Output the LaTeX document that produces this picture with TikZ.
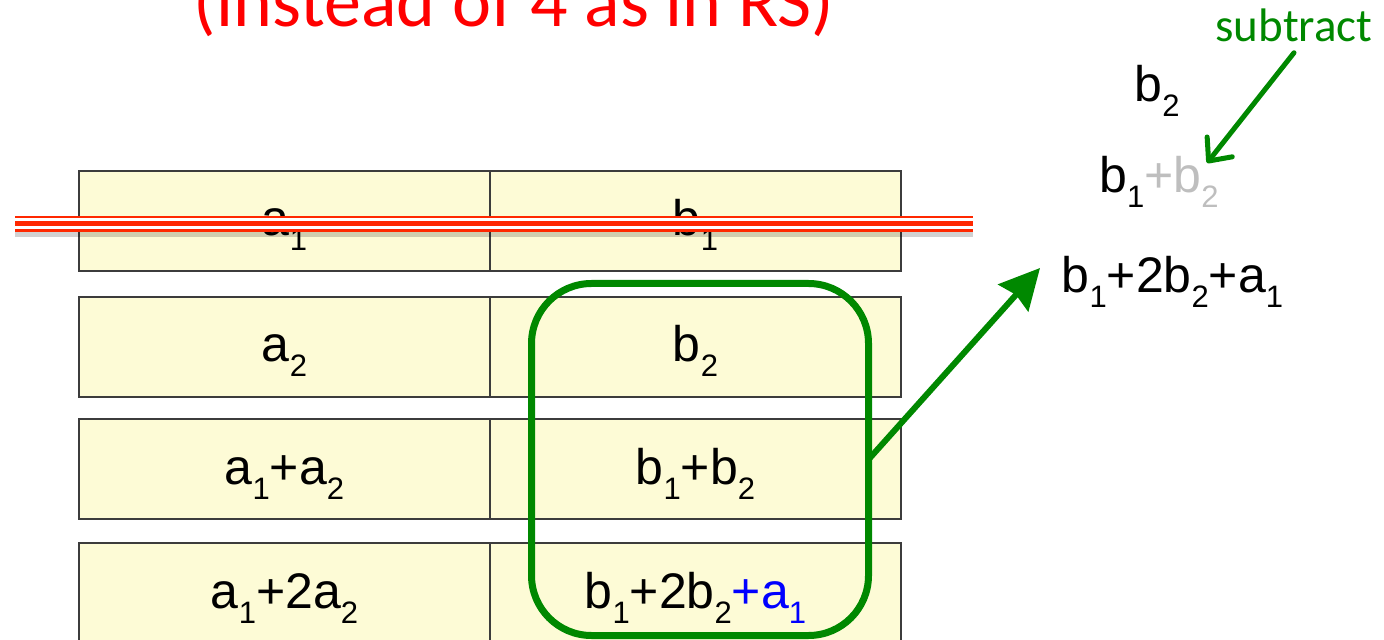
\documentclass[tikz,border=0pt]{standalone}
\usepackage{fontspec}
\setmainfont{Liberation Sans}
\newfontfamily\calibri{Carlito}
\usetikzlibrary{arrows.meta}
\definecolor{cellfill}{RGB}{253,251,214}
\definecolor{cellline}{RGB}{60,60,60}
\definecolor{strikered}{RGB}{255,40,0}
\definecolor{boxgreen}{RGB}{0,136,0}
\definecolor{fadegray}{RGB}{190,190,190}
\definecolor{addblue}{RGB}{0,0,255}
\newcommand{\ix}[1]{\raisebox{-7.5pt}{\fontsize{15.5}{15.5}\selectfont #1}}
\tikzset{
  cell/.style={draw=cellline, line width=0.75pt, fill=cellfill, minimum width=205.5pt,
    minimum height=50pt, inner sep=0pt, text height=17pt, text depth=2pt,
    font=\fontsize{25}{30}\selectfont},
  eq/.style={anchor=base, inner sep=0pt, font=\fontsize{25}{30}\selectfont},
  grn/.style={draw=boxgreen, line width=3pt, -{Stealth[length=20pt, width=20pt, inset=2pt]}},
}
\begin{document}
\begin{tikzpicture}[x=0.5pt, y=-0.5pt]
  \useasboundingbox (0,0) rectangle (1384,640);
  \clip (0,0) rectangle (1384,640);

  % Title
  \node[anchor=base, inner sep=0pt, text=red, font=\calibri\fontsize{37}{44}\selectfont]
    (title) at (514,27) {(instead of 4 as in RS)};

  % Row 1
  \node[cell] (a1) at (284.5,221) {a\ix{1}}; \node[cell] (b1) at (695.5,221) {b\ix{1}};
  % Row 2
  \node[cell] (a2) at (284.5,347) {a\ix{2}}; \node[cell] (b2) at (695.5,347) {b\ix{2}};
  % Row 3
  \node[cell] (a3) at (284.5,469) {a\ix{1}+a\ix{2}}; \node[cell] (b3) at (695.5,469) {b\ix{1}+b\ix{2}};
  % Row 4
  \node[cell] (a4) at (284.5,593) {a\ix{1}+2a\ix{2}};
  \node[cell] (b4) at (695.5,593) {b\ix{1}+2b\ix{2}\textcolor{addblue}{+a\ix{1}}};

  % Row 1 struck out
  \draw[black, opacity=0.18, line width=8pt] (15,229) -- (973,229);
  \draw[strikered, line width=8pt] (15,224) -- (973,224);
  \draw[white, line width=5.5pt] (15,224) -- (973,224);
  \draw[strikered, line width=2.5pt] (15,224) -- (973,224);

  % Group of surviving b cells
  \node[draw=boxgreen, line width=3.5pt, rounded corners=30pt, minimum width=168.5pt,
    minimum height=176pt, inner sep=0pt, outer sep=0pt] (grp) at (700,459.5) {};

  % Right side
  \node[eq] (r1) at (1157,102) {b\ix{2}};
  \node[eq] (r2) at (1159,193) {b\ix{1}\textcolor{fadegray}{+b\ix{2}}};
  \node[eq] (r3) at (1172.5,293) {b\ix{1}+2b\ix{2}+a\ix{1}};
  \node[anchor=base, inner sep=0pt, text=boxgreen, font=\calibri\fontsize{23.5}{28}\selectfont]
    (sub) at (1294,42) {subtract};

  \coordinate (tipR) at (1040,268);
  \coordinate (tipS) at (1207,163);
  \draw[grn] (grp.east) -- (tipR);
  \draw[draw=boxgreen, line width=2.5pt, line cap=round,
    -{Straight Barb[length=9pt, width=16pt, line width=2.5pt, round]}]
    ([yshift=-5pt]sub.south) -- (tipS);
\end{tikzpicture}
\end{document}
